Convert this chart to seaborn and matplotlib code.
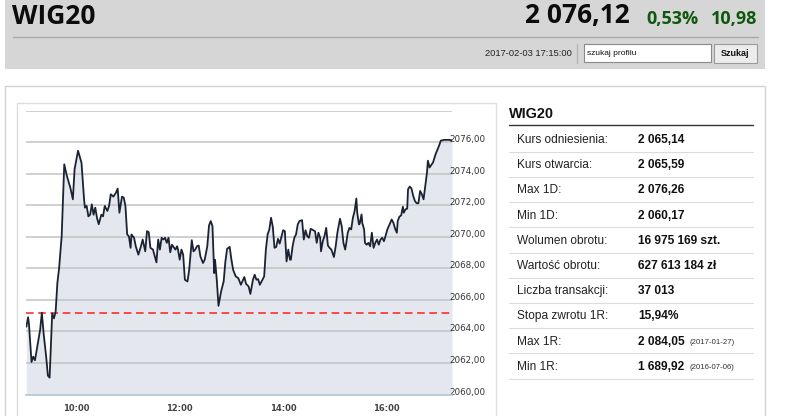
import matplotlib
matplotlib.use("Agg")
import matplotlib.pyplot as plt
import seaborn as sns
import pandas as pd
from matplotlib.patches import Rectangle

# ---------------- data ----------------
minutes = [2, 4, 5, 8, 10, 12, 16, 18, 20, 22, 25, 27, 29, 32, 34, 36, 38, 40, 43, 46,
           49, 53, 56, 58, 62, 66, 69, 70, 72, 74, 76, 78, 80, 82, 84, 86, 89, 91, 93, 96,
           98, 100, 103, 106, 108, 110, 113, 115, 117, 119, 121, 123, 124, 127, 129, 132, 135, 137, 140, 142,
           144, 146, 149, 150, 153, 155, 157, 159, 161, 163, 165, 167, 169, 171, 175, 177, 178, 180, 182, 184,
           186, 189, 191, 194, 196, 198, 200, 202, 204, 207, 209, 212, 214, 216, 218, 220, 221, 223, 225, 228,
           231, 233, 235, 238, 240, 242, 245, 248, 251, 255, 257, 260, 262, 265, 267, 269, 271, 273, 275, 278,
           280, 282, 284, 286, 288, 290, 292, 294, 296, 298, 300, 302, 304, 306, 308, 309, 311, 313, 315, 317,
           319, 322, 324, 326, 328, 330, 332, 335, 337, 339, 341, 343, 344, 346, 348, 350, 352, 354, 356, 359,
           361, 363, 366, 368, 370, 372, 373, 375, 377, 379, 381, 383, 385, 386, 388, 389, 391, 392, 394, 395,
           397, 399, 401, 403, 405, 407, 409, 411, 413, 415, 417, 419, 421, 424, 426, 428, 430, 432, 433, 435,
           437, 439, 440, 442, 444, 445, 447, 449, 451, 453, 455, 457, 459, 461, 463, 465, 467, 468, 470, 474,
           477, 481, 483, 487, 493, 496]
values = [2064.30, 2064.90, 2064.50, 2062.06, 2062.40, 2062.17, 2063.45, 2064.10, 2065.19, 2063.90,
          2062.40, 2061.20, 2061.07, 2065.15, 2064.83, 2065.25, 2067.07, 2068.00, 2070.04, 2074.60,
          2073.87, 2073.13, 2072.38, 2074.30, 2075.46, 2074.70, 2072.38, 2071.85, 2071.96, 2071.30,
          2071.40, 2072.06, 2071.40, 2071.85, 2071.20, 2070.80, 2071.40, 2071.30, 2071.96, 2071.64,
          2071.96, 2072.70, 2072.55, 2072.80, 2073.06, 2071.53, 2072.55, 2072.49, 2071.96, 2070.15,
          2070.04, 2069.30, 2070.15, 2069.94, 2069.40, 2068.87, 2069.40, 2069.83, 2069.08, 2070.36,
          2070.30, 2069.30, 2069.19, 2068.98, 2068.38, 2069.83, 2069.19, 2069.94, 2069.83, 2069.94,
          2069.62, 2069.94, 2069.02, 2069.50, 2069.19, 2069.40, 2069.19, 2068.55, 2069.19, 2068.87,
          2067.28, 2067.17, 2067.91, 2069.79, 2069.08, 2069.19, 2069.40, 2069.45, 2068.76, 2068.34,
          2068.55, 2069.40, 2070.72, 2071.00, 2070.68, 2067.70, 2068.55, 2067.28, 2065.62, 2066.53,
          2067.17, 2068.44, 2069.24, 2069.36, 2068.55, 2067.91, 2067.49, 2067.38, 2066.96, 2067.45,
          2067.02, 2066.85, 2066.38, 2067.28, 2067.60, 2067.28, 2067.32, 2066.96, 2067.17, 2067.49,
          2069.19, 2070.15, 2070.47, 2071.21, 2070.64, 2069.30, 2069.36, 2069.87, 2069.57, 2070.00,
          2070.42, 2070.36, 2068.44, 2069.19, 2068.55, 2068.55, 2069.40, 2069.94, 2070.15, 2070.79,
          2071.00, 2071.06, 2069.83, 2070.42, 2070.04, 2069.94, 2070.51, 2070.42, 2070.36, 2069.62,
          2070.26, 2069.94, 2069.08, 2069.72, 2070.04, 2070.57, 2069.45, 2069.30, 2069.19, 2068.72,
          2069.40, 2070.26, 2071.15, 2070.68, 2069.62, 2069.19, 2069.50, 2070.26, 2070.57, 2070.47,
          2071.21, 2071.64, 2072.43, 2071.53, 2070.79, 2070.85, 2071.42, 2070.85, 2070.47, 2069.62,
          2069.50, 2069.62, 2069.40, 2070.26, 2069.30, 2069.62, 2069.83, 2069.50, 2069.83, 2069.94,
          2069.72, 2070.08, 2070.47, 2070.85, 2071.10, 2070.89, 2070.51, 2070.26, 2071.00, 2071.28,
          2071.36, 2071.91, 2071.53, 2071.74, 2071.79, 2073.02, 2073.19, 2073.06, 2072.59, 2072.27,
          2072.13, 2072.13, 2072.91, 2072.70, 2072.38, 2073.23, 2074.09, 2074.83, 2074.40, 2074.72,
          2075.25, 2075.78, 2076.10, 2076.15, 2076.15, 2076.12]
ref_level = 2065.14

x_tick_minutes = [60, 180, 300, 420]
x_tick_labels = ["10:00", "12:00", "14:00", "16:00"]
y_ticks = [2060, 2062, 2064, 2066, 2068, 2070, 2072, 2074, 2076, 2078]
y_tick_labels = ["2060,00", "2062,00", "2064,00", "2066,00", "2068,00",
                 "2070,00", "2072,00", "2074,00", "2076,00", ""]

title = "WIG20"
last_price = "2 076,12"
change_pct = "0,53%"
change_abs = "10,98"
timestamp = "2017-02-03 17:15:00"
search_placeholder = "szukaj profilu"
search_button = "Szukaj"

stat_labels = ["Kurs odniesienia:", "Kurs otwarcia:", "Max 1D:", "Min 1D:",
               "Wolumen obrotu:", "Wartość obrotu:", "Liczba transakcji:",
               "Stopa zwrotu 1R:", "Max 1R:", "Min 1R:"]
stat_values = ["2 065,14", "2 065,59", "2 076,26", "2 060,17", "16 975 169 szt.",
               "627 613 184 zł", "37 013", "15,94%", "2 084,05", "1 689,92"]
stat_notes = ["", "", "", "", "", "", "", "", "(2017-01-27)", "(2016-07-06)"]

# ---------------- figure ----------------
sns.set_style("white")
plt.rcParams["font.family"] = ["Liberation Sans", "DejaVu Sans"]

W, H = 786, 416
fig = plt.figure(figsize=(W / 100, H / 100), dpi=100)
fig.patch.set_facecolor("white")

bg = fig.add_axes([0, 0, 1, 1])
bg.set_xlim(0, W)
bg.set_ylim(H, 0)
bg.axis("off")

# header band
bg.add_patch(Rectangle((5, 0), 760, 69, fc="#d6d6d6", ec="none"))
bg.plot([13, 758], [37, 37], color="#a8a8a8", lw=1)
bg.text(12, 23.5, title, fontsize=19, fontweight="bold", family="Open Sans",
        color="#0c0c0c", va="baseline", ha="left")
bg.text(630, 23.5, last_price, fontsize=19, fontweight="bold", family="Open Sans",
        color="#0c0c0c", va="baseline", ha="right")
bg.text(646, 23.5, change_pct, fontsize=13, fontweight="bold", family="Open Sans",
        color="#0f570f", va="baseline", ha="left")
bg.text(757, 23.5, change_abs, fontsize=13, fontweight="bold", family="Open Sans",
        color="#0f570f", va="baseline", ha="right")

bg.text(572, 54, timestamp, fontsize=6.7, color="#222222", va="center", ha="right")
bg.plot([577, 577], [44, 63], color="#b5b5b5", lw=1)
bg.add_patch(Rectangle((584, 44), 127, 18, fc="white", ec="#8a8a8a", lw=0.8))
bg.text(587, 53.5, search_placeholder, fontsize=6, color="#111111", va="center", ha="left")
bg.add_patch(Rectangle((714, 44), 43, 19, fc="#ececec", ec="#9a9a9a", lw=0.8))
bg.text(735.5, 54, search_button, fontsize=6.5, fontweight="bold", color="#111111",
        va="center", ha="center")

# panels
bg.add_patch(Rectangle((5, 86), 760, 340, fc="white", ec="#d2d2d2", lw=1))
bg.add_patch(Rectangle((17, 103), 479, 330, fc="none", ec="#dddddd", lw=1))

# stats table
bg.text(509, 117.5, title, fontsize=10.4, fontweight="bold", color="#111111",
        va="baseline", ha="left")
bg.plot([509, 753], [124.5, 124.5], color="#333333", lw=1)
row0, row_step = 140.0, 25.2
for i, (lab, val, note) in enumerate(zip(stat_labels, stat_values, stat_notes)):
    yc = row0 + i * row_step
    bg.text(517, yc, lab, fontsize=8.6, color="#222222", va="center", ha="left")
    bg.text(638, yc, val, fontsize=8.6, fontweight="bold", color="#111111",
            va="center", ha="left")
    if note:
        bg.text(690, yc + 0.8, note, fontsize=5.6, color="#333333", va="center", ha="left")
    bg.plot([509, 753], [yc + 11.8, yc + 11.8], color="#dcdcdc", lw=0.8)

# ---------------- chart ----------------
df = pd.DataFrame({"minute": minutes, "value": values})

left, right, top, bottom = 26, 452, 110.7, 394.5
ax = fig.add_axes([left / W, 1 - bottom / H, (right - left) / W, (bottom - top) / H])
ax.set_facecolor("white")
ax.fill_between(df["minute"], df["value"], 2060, color="#e4e7ee", lw=0, zorder=1)
ax.set_ylim(2060, 2078)
ax.set_xlim(1.6, 496)
ax.set_yticks(y_ticks)
ax.yaxis.grid(True, color="#c3c3c3", lw=1.1, zorder=2)
ax.set_axisbelow(False)
ax.axhline(ref_level, color="#ff1f1f", lw=1.1, dashes=(5, 3), zorder=3)
sns.lineplot(data=df, x="minute", y="value", ax=ax, color="#1b2333", lw=1.3, zorder=4)

for s in ["top", "left", "right"]:
    ax.spines[s].set_visible(False)
ax.spines["bottom"].set_color("#b8c9de")
ax.spines["bottom"].set_linewidth(1.3)
ax.spines["bottom"].set_zorder(5)

ax.set_xticks(x_tick_minutes)
ax.set_xticklabels(x_tick_labels, fontsize=6, fontweight="bold", color="#444444",
                   family="DejaVu Sans")
ax.tick_params(axis="x", length=4, width=1, color="#b8c9de", pad=3)

ax.yaxis.tick_right()
ax.set_yticklabels(y_tick_labels, fontsize=6.3, color="#333333", family="DejaVu Sans")
for lbl in ax.get_yticklabels():
    lbl.set_va("baseline")
ax.tick_params(axis="y", length=0, pad=-2)
ax.set_xlabel("")
ax.set_ylabel("")

fig.savefig("out.png", dpi=100, facecolor="white")
